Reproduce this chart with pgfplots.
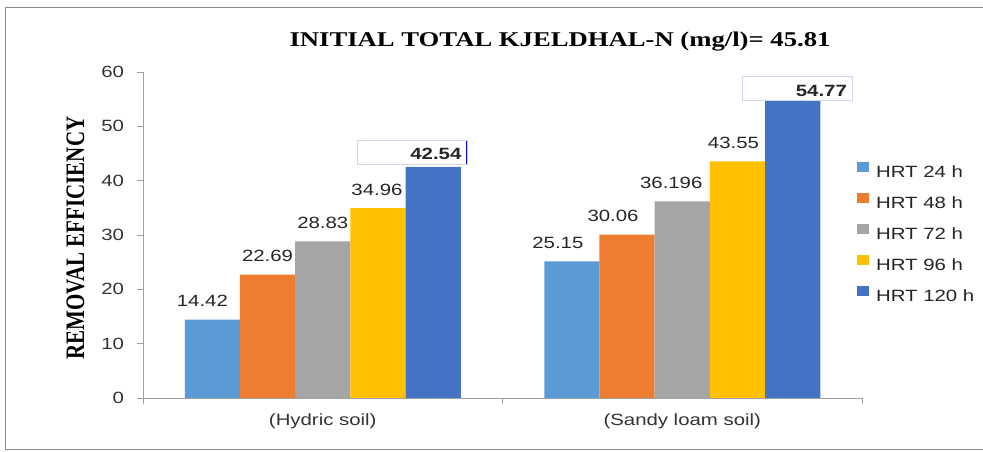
\documentclass[border=0pt]{standalone}
\usepackage{pgfplots}
\pgfplotsset{compat=1.18}
\usepackage{fontspec}
\setmainfont{Liberation Serif}
\newfontfamily\labfont[FakeStretch=1.25]{Liberation Sans}
\newfontfamily\titlefont[FakeStretch=1.27]{Liberation Serif}
\definecolor{c1}{HTML}{5B9BD5}
\definecolor{c2}{HTML}{ED7D31}
\definecolor{c3}{HTML}{A5A5A5}
\definecolor{c4}{HTML}{FFC000}
\definecolor{c5}{HTML}{4472C4}
\definecolor{axgray}{HTML}{A0A0A0}
\definecolor{boxc}{HTML}{D0D4EC}
\definecolor{framec}{HTML}{8C8C8C}
\newcommand{\lab}{\labfont\fontsize{16.3}{19}\selectfont}
\begin{document}
\begin{tikzpicture}[x=1pt,y=1pt]
\useasboundingbox (0,0) rectangle (983,452);
\draw[framec, line width=1pt] (5,2) rectangle (995,444);
\begin{axis}[
  at={(143pt,54pt)}, anchor=south west,
  scale only axis, width=719pt, height=326pt,
  xmin=-0.5, xmax=1.5, ymin=0, ymax=60,
  ybar=0pt, bar width=55.2pt,
  axis x line*=bottom, axis y line*=left,
  axis line style={draw=axgray, line width=0.9pt},
  xtick={-0.5,0.5,1.5}, xticklabels={,,},
  extra x ticks={0,1},
  extra x tick labels={(Hydric soil),(Sandy loam soil)},
  extra x tick style={major tick length=0pt, xticklabel style={yshift=-12pt}},
  ytick={0,10,...,60},
  tick align=outside,
  major tick length=6.5pt,
  tick style={draw=axgray, line width=0.9pt},
  /pgf/number format/assume math mode=true,
  ticklabel style={font=\lab, text=black!80},
  yticklabel style={xshift=-9pt},
  title={\titlefont\fontsize{21}{25}\selectfont\bfseries INITIAL TOTAL KJELDHAL-N (mg/l)= 45.81},
  title style={at={(rel axis cs:0.58,1)}, anchor=base, yshift=20pt, inner sep=0pt},
  legend image code/.code={\fill[#1] (0pt,0.5pt) rectangle (12pt,10.5pt);},
  legend cell align=left,
  legend style={font=\lab, text=black!85, draw=none, fill=none,
    at={(rel axis cs:0.993,0.7255)}, anchor=north west, inner sep=0pt,
    row sep=15pt, column sep=7pt,
    nodes={inner sep=0pt, text height=11pt, text depth=0pt}},
  nodes near coords,
  point meta=explicit symbolic,
  visualization depends on={value \thisrow{dx} \as \dx},
  visualization depends on={value \thisrow{dy} \as \dy},
  every node near coord/.append style={anchor=base, inner sep=0pt, font=\lab, text=black!85, xshift=\dx pt, yshift=\dy pt},
]
\addplot[fill=c1, draw=none] table[x=x, y=y, meta=lab, row sep=\\]{
x y lab dx dy\\
0 14.42 14.42 -10 13\\
1 25.15 25.15 -14 13\\
};
\addplot[fill=c2, draw=none] table[x=x, y=y, meta=lab, row sep=\\]{
x y lab dx dy\\
0 22.69 22.69 0 13\\
1 30.06 30.06 -14 13\\
};
\addplot[fill=c3, draw=none] table[x=x, y=y, meta=lab, row sep=\\]{
x y lab dx dy\\
0 28.83 28.83 0 13\\
1 36.196 36.196 -11 13\\
};
\addplot[fill=c4, draw=none] table[x=x, y=y, meta=lab, row sep=\\]{
x y lab dx dy\\
0 34.96 34.96 -1 13\\
1 43.55 43.55 -4 13\\
};
\addplot[fill=c5, draw=none,
  every node near coord/.append style={anchor=south east, draw=boxc, fill=white,
    line width=0.8pt, text width=98pt, align=right, inner xsep=6pt, inner ysep=4.5pt,
    text height=15pt, text depth=0pt, font=\lab\bfseries, text=black!85,
    path picture={\draw[blue!85!black, line width=2.5pt] (path picture bounding box.north east) -- (path picture bounding box.south east);}}]
  table[x=x, y=y, meta=lab, row sep=\\]{
x y lab dx dy\\
0 42.54 42.54 34.6 2\\
1 54.77 54.77 60.6 -0.6\\
};
\legend{HRT 24 h, HRT 48 h, HRT 72 h, HRT 96 h, HRT 120 h}
\end{axis}
\node[rotate=90, inner sep=0pt] at (75.5,214) {\scalebox{1}[1.27]{\fontsize{21}{25}\selectfont\bfseries REMOVAL EFFICIENCY}};
\end{tikzpicture}
\end{document}
